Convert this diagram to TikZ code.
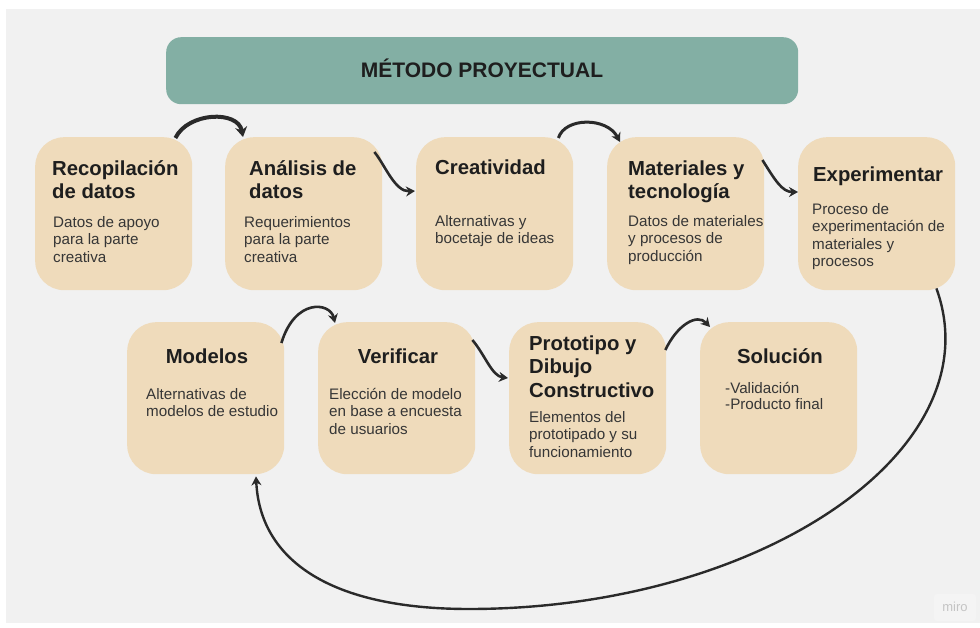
\documentclass[tikz,border=0pt]{standalone}
\usepackage{fontspec}
\setmainfont{Liberation Sans}
\usetikzlibrary{arrows.meta,calc}
\definecolor{bg}{HTML}{F1F1F1}
\definecolor{boxfill}{HTML}{EFDBBB}
\definecolor{headfill}{HTML}{83AFA4}
\definecolor{ink}{HTML}{1E1E1E}
\definecolor{bodyink}{HTML}{363636}
\definecolor{arrowink}{HTML}{2A2A2A}
\definecolor{mirogray}{HTML}{C4C4C4}
\definecolor{badge}{HTML}{F4F4F4}
\newcommand\tst{\rule{0pt}{16pt}}
\newcommand\bst{\rule{0pt}{12pt}}
\begin{document}
\begin{tikzpicture}[x=1pt,y=-1pt,
  stepbox/.style={draw=none, fill=boxfill, rounded corners=29pt, minimum width=157pt, minimum height=153pt, inner sep=0pt, anchor=north west},
  headbox/.style={draw=none, fill=headfill, rounded corners=15pt, minimum width=632pt, minimum height=67pt, inner sep=0pt, anchor=north west},
  ttl/.style={anchor=north west, inner sep=0pt, align=left, text=ink, font=\bfseries\fontsize{20.3}{23.5}\selectfont},
  ttlc/.style={ttl, anchor=north, align=center},
  bodytxt/.style={anchor=north west, inner sep=0pt, align=left, text=bodyink, font=\fontsize{15.2}{17.5}\selectfont},
  conn/.style={draw=arrowink, line width=2.6pt, -{Stealth[length=9pt,width=10pt]}},
  connthick/.style={draw=arrowink, line width=4pt, -{Stealth[length=10pt,width=12pt]}},
]
\useasboundingbox (0,0) rectangle (980,628);
\fill[white] (0,0) rectangle (980,628);
\fill[bg] (6,9) rectangle (980,623);

% header
\node[headbox] (head) at (166,37) {};
\node[anchor=base, inner sep=0pt, text=ink, font=\bfseries\fontsize{21}{24}\selectfont] (headtxt) at (482,78) {MÉTODO PROYECTUAL};

% row 1
\node[stepbox] (rec) at (35,137) {};
\node[stepbox] (ana) at (225,137) {};
\node[stepbox] (cre) at (416,137) {};
\node[stepbox] (mat) at (607,137) {};
\node[stepbox] (exp) at (798,137) {};
% row 2
\node[stepbox, minimum height=152pt] (mod) at (127,322) {};
\node[stepbox, minimum height=152pt] (ver) at (318,322) {};
\node[stepbox, minimum height=152pt] (pro) at (509,322) {};
\node[stepbox, minimum height=152pt] (sol) at (700,322) {};

% texts row 1
\node[ttl] (rec-t) at (52,159) {\tst Recopilación\\de datos};
\node[bodytxt] (rec-b) at (53,215) {\bst Datos de apoyo\\para la parte\\creativa};
\node[ttl] (ana-t) at (249,159) {\tst Análisis de\\datos};
\node[bodytxt] (ana-b) at (244,215) {\bst Requerimientos\\para la parte\\creativa};
\node[ttl] (cre-t) at (435,158) {\tst Creatividad};
\node[bodytxt] (cre-b) at (435,214) {\bst Alternativas y\\bocetaje de ideas};
\node[ttl] (mat-t) at (628,159) {\tst Materiales y\\tecnología};
\node[bodytxt] (mat-b) at (628,214) {\bst Datos de materiales\\y procesos de\\producción};
\node[ttl] (exp-t) at (813,165) {\tst Experimentar};
\node[bodytxt] (exp-b) at (812,202) {\bst Proceso de\\experimentación de\\materiales y\\procesos};

% texts row 2
\node[ttlc] (mod-t) at (207,347) {\tst Modelos};
\node[bodytxt] (mod-b) at (146,387) {\bst Alternativas de\\modelos de estudio};
\node[ttlc] (ver-t) at (398,347) {\tst Verificar};
\node[bodytxt] (ver-b) at (329,387) {\bst Elección de modelo\\en base a encuesta\\de usuarios};
\node[ttl] (pro-t) at (529,334) {\tst Prototipo y\\Dibujo\\Constructivo};
\node[bodytxt] (pro-b) at (529,410) {\bst Elementos del\\prototipado y su\\funcionamiento};
\node[ttlc] (sol-t) at (780,347) {\tst Solución};
\node[bodytxt, font=\fontsize{15.2}{16.5}\selectfont] (sol-b) at (725,381) {\bst -Validación\\-Producto final};

% connectors
\draw[connthick] ([shift={(-17,1)}]rec.north east) .. controls (188,112) and (238,110) .. ([shift={(18,0)}]ana.north west);
\draw[conn] ([shift={(-8,15)}]ana.north east) .. controls (385,165) and (395,192) .. ([shift={(-1,54)}]cre.north west);
\draw[conn, line width=3pt] ([shift={(-15,1)}]cre.north east) .. controls (565,117) and (607,117) .. ([shift={(13,5)}]mat.north west);
\draw[conn] ([shift={(-2,23)}]mat.north east) .. controls (775,180) and (782,192) .. ([shift={(0,55)}]exp.north west);
\coordinate (loopbot) at (469,609);
\draw[conn, line width=2.4pt] ([shift={(-19,-2)}]exp.south east) .. controls (995,450) and (760,609) .. (loopbot)
   .. controls (330,609) and (260,560) .. ([shift={(129,2)}]mod.south west);
\draw[conn] ([shift={(-3,21)}]mod.north east) .. controls (295,298) and (330,302) .. ([shift={(17,1)}]ver.north west);
\draw[conn] ([shift={(-3,18)}]ver.north east) .. controls (485,355) and (492,376) .. ([shift={(-1,56)}]pro.north west);
\draw[conn] ([shift={(-1,28)}]pro.north east) .. controls (677,325) and (697,313) .. ([shift={(10,5)}]sol.north west);

% miro badge
\fill[badge, rounded corners=3pt] (934,594) rectangle (976,621);
\node[inner sep=0pt, text=mirogray, font=\fontsize{13}{13}\selectfont] (miro) at (955,607) {miro};
\end{tikzpicture}
\end{document}
